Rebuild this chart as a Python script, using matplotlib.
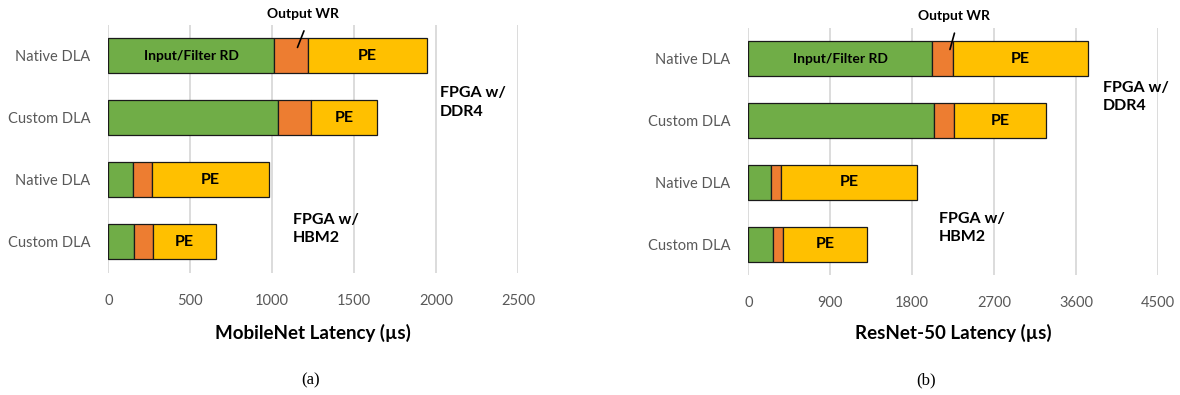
import matplotlib.pyplot as plt

plt.rcParams['font.family'] = ['Lato', 'DejaVu Sans']

categories = ['Native DLA', 'Custom DLA', 'Native DLA', 'Custom DLA']

# MobileNet latency breakdown (us)
mobilenet_rd = [1011, 1033, 153, 159]
mobilenet_wr = [207, 203, 111, 111]
mobilenet_pe = [726, 403, 715, 390]
mobilenet_ticks = [0, 500, 1000, 1500, 2000, 2500]

# ResNet-50 latency breakdown (us)
resnet_rd = [2016, 2037, 248, 269]
resnet_wr = [228, 223, 116, 112]
resnet_pe = [1486, 1010, 1486, 923]
resnet_ticks = [0, 900, 1800, 2700, 3600, 4500]

GREEN = '#70ad47'
ORANGE = '#ed7d31'
YELLOW = '#ffc000'
GREY = '#595959'


def draw_panel(ax, rd, wr, pe, ticks, xlabel, label_y, wr_text, wr_line, ddr_pos, hbm_pos):
    y = list(range(len(categories)))
    left_wr = [a for a in rd]
    left_pe = [a + b for a, b in zip(rd, wr)]
    kw = dict(height=0.565, edgecolor='#1a1a1a', linewidth=0.9, zorder=3)
    ax.barh(y, rd, color=GREEN, **kw)
    ax.barh(y, wr, left=left_wr, color=ORANGE, **kw)
    ax.barh(y, pe, left=left_pe, color=YELLOW, **kw)

    ax.set_xlim(ticks[0], ticks[-1])
    ax.set_ylim(3.5, -0.5)
    ax.set_xticks(ticks)
    ax.set_yticks(y)
    ax.set_yticklabels(categories)
    ax.tick_params(axis='both', length=0, labelsize=10.5, colors=GREY)
    ax.tick_params(axis='x', pad=15)
    ax.tick_params(axis='y', pad=13)
    ax.xaxis.grid(True, color='#d9d9d9', linewidth=1.3, zorder=0)
    ax.set_axisbelow(True)
    for s in ax.spines.values():
        s.set_visible(False)
    ax.set_xlabel(xlabel, fontsize=13.5, fontweight='bold', va='center')
    ax.xaxis.set_label_coords(0.5, label_y)

    # segment labels
    ax.text(rd[0] / 2, 0, 'Input/Filter RD', ha='center', va='center',
            fontsize=10, fontweight='bold', zorder=4)
    for i in y:
        ax.text(left_pe[i] + pe[i] / 2, i, 'PE', ha='center', va='center',
                fontsize=11.5, fontweight='bold', zorder=4)

    ax.annotate('', xy=wr_line[1], xytext=wr_line[0],
                arrowprops=dict(arrowstyle='-', color='black', lw=1.2),
                annotation_clip=False, zorder=5)
    ax.text(wr_text[0], wr_text[1], 'Output WR', ha='center', va='center',
            fontsize=10, fontweight='bold', clip_on=False)
    ax.text(ddr_pos[0], ddr_pos[1], 'FPGA w/\nDDR4', ha='left', va='center',
            fontsize=11.5, fontweight='bold', linespacing=1.4)
    ax.text(hbm_pos[0], hbm_pos[1], 'FPGA w/\nHBM2', ha='left', va='center',
            fontsize=11.5, fontweight='bold', linespacing=1.4)


fig = plt.figure(figsize=(11.8, 3.95), dpi=100)
ax1 = fig.add_axes([0.0918, 0.3096, 0.3472, 0.6271])
ax2 = fig.add_axes([0.6342, 0.3038, 0.3472, 0.6253])

draw_panel(ax1, mobilenet_rd, mobilenet_wr, mobilenet_pe, mobilenet_ticks,
           'MobileNet Latency (µs)', label_y=-0.245,
           wr_text=(1188, -0.68), wr_line=((1200, -0.447), (1148, -0.096)),
           ddr_pos=(2024, 0.75), hbm_pos=(1127, 2.79))
draw_panel(ax2, resnet_rd, resnet_wr, resnet_pe, resnet_ticks,
           'ResNet-50 Latency (µs)', label_y=-0.235,
           wr_text=(2259, -0.69), wr_line=((2272, -0.46), (2206, -0.109)),
           ddr_pos=(3890, 0.62), hbm_pos=(2095, 2.74))

fig.text(311 / 1180, 1 - 380 / 395, '(a)', ha='center', va='center',
         fontsize=12, family='Liberation Serif')
fig.text(926 / 1180, 1 - 380 / 395, '(b)', ha='center', va='center',
         fontsize=12, family='Liberation Serif')

fig.savefig('out.png', dpi=100)
